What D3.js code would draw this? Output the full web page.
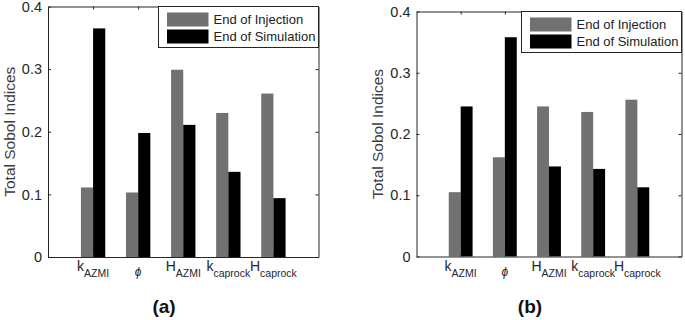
<!DOCTYPE html>
<html>
<head>
<meta charset="utf-8">
<script src="https://cdn.jsdelivr.net/npm/d3@7"></script>
<style>
  body { margin: 0; background: #fff; }
  svg { display: block; font-family: "Liberation Sans", Arial, sans-serif; }
</style>
</head>
<body>
<div id="chart"></div>
<script>
// chart data
const labelBase = ["k", "\u03d5", "H", "k", "H"];
const labelSub = ["AZMI", "", "AZMI", "caprock", "caprock"];
const seriesNames = ["End of Injection", "End of Simulation"];
const seriesColors = ["#717171", "#000000"];
const injectionA = [0.111, 0.103, 0.299, 0.230, 0.261];
const simulationA = [0.365, 0.198, 0.211, 0.136, 0.094];
const injectionB = [0.105, 0.162, 0.245, 0.236, 0.256];
const simulationB = [0.245, 0.358, 0.147, 0.143, 0.113];
const yTicks = [0, 0.1, 0.2, 0.3, 0.4];

const width = 685;
const height = 320;

const svg = d3.select("#chart")
  .append("svg")
    .attr("width", width)
    .attr("height", height);

// draws one panel of grouped bars
function drawPanel(p) {
  const x = d3.scaleLinear().domain([0, 6]).range([p.left, p.right]);
  const y = d3.scaleLinear().domain([0, 0.4]).range([p.bottom, p.top]);
  const bw = 0.27; // bar width in category units

  const g = svg.append("g");

  // bars
  const rows = labelBase.map((d, i) => ({ i: i, vals: [p.inj[i], p.sim[i]] }));
  rows.forEach(r => {
    g.selectAll(null)
      .data(r.vals)
      .join("rect")
        .attr("x", (v, s) => x(r.i + 1 + (s - 1) * bw))
        .attr("width", x(bw) - x(0))
        .attr("y", v => y(v))
        .attr("height", v => y(0) - y(v))
        .attr("fill", (v, s) => seriesColors[s]);
  });

  // axes, ticks inward like matlab
  const fmt = d => d === 0 ? "0" : d.toFixed(1);
  const left = g.append("g")
    .attr("transform", `translate(${p.left},0)`)
    .call(d3.axisLeft(y).tickValues(yTicks).tickFormat(fmt).tickSize(-3).tickSizeOuter(0).tickPadding(6));
  left.selectAll("text").attr("font-size", 14.5).attr("fill", "#262626").attr("font-family", null);

  g.append("g")
    .attr("transform", `translate(${p.right},0)`)
    .call(d3.axisRight(y).tickValues(yTicks).tickFormat("").tickSize(-3).tickSizeOuter(0));

  g.append("g")
    .attr("transform", `translate(0,${p.bottom})`)
    .call(d3.axisBottom(x).tickValues([1, 2, 3, 4, 5]).tickFormat("").tickSize(-3).tickSizeOuter(0));

  g.append("g")
    .attr("transform", `translate(0,${p.top})`)
    .call(d3.axisTop(x).tickValues([1, 2, 3, 4, 5]).tickFormat("").tickSize(-3).tickSizeOuter(0));

  g.selectAll(".domain, .tick line").attr("stroke", "#262626");

  // category labels with subscripts
  labelBase.forEach((b, i) => {
    const t = g.append("text")
      .attr("x", x(i + 1))
      .attr("y", p.bottom + 14)
      .attr("text-anchor", "middle")
      .attr("fill", "#262626");
    if (labelSub[i]) {
      t.append("tspan").attr("font-size", 14).text(b);
      t.append("tspan").attr("font-size", 10.5).attr("dy", 6).text(labelSub[i]);
    } else {
      t.append("tspan").attr("font-size", 12).attr("dy", 5).attr("font-style", "italic").text(b);
    }
  });

  // y label
  g.append("text")
    .attr("transform", `translate(${p.ylabelX},${(p.top + p.bottom) / 2}) rotate(-90)`)
    .attr("text-anchor", "middle")
    .attr("dy", "0.35em")
    .attr("font-size", 15.5)
    .attr("fill", "#3a3a3a")
    .text("Total Sobol Indices");

  // legend
  const lw = 160, lh = 41;
  const lg = g.append("g").attr("transform", `translate(${p.right - lw},${p.top})`);
  lg.append("rect")
    .attr("width", lw).attr("height", lh)
    .attr("fill", "#fff").attr("stroke", "#262626");
  seriesNames.forEach((s, k) => {
    lg.append("rect")
      .attr("x", 8.5).attr("y", 6 + k * 17)
      .attr("width", 41.5).attr("height", 14)
      .attr("fill", seriesColors[k]);
    lg.append("text")
      .attr("x", 55).attr("y", 13 + k * 17)
      .attr("dy", "0.35em")
      .attr("font-size", 13)
      .attr("fill", "#222")
      .text(s);
  });

  // caption
  g.append("text")
    .attr("x", p.captionX)
    .attr("y", 313)
    .attr("text-anchor", "middle")
    .attr("font-size", 19)
    .attr("font-weight", "bold")
    .attr("fill", "#111")
    .text(p.caption);
}

drawPanel({ left: 48, right: 318.5, top: 6.5, bottom: 257, inj: injectionA, sim: simulationA,
  ylabelX: 10, captionX: 164, caption: "(a)" });
drawPanel({ left: 416.5, right: 681.5, top: 11.5, bottom: 256.5, inj: injectionB, sim: simulationB,
  ylabelX: 378, captionX: 530, caption: "(b)" });
</script>
</body>
</html>
